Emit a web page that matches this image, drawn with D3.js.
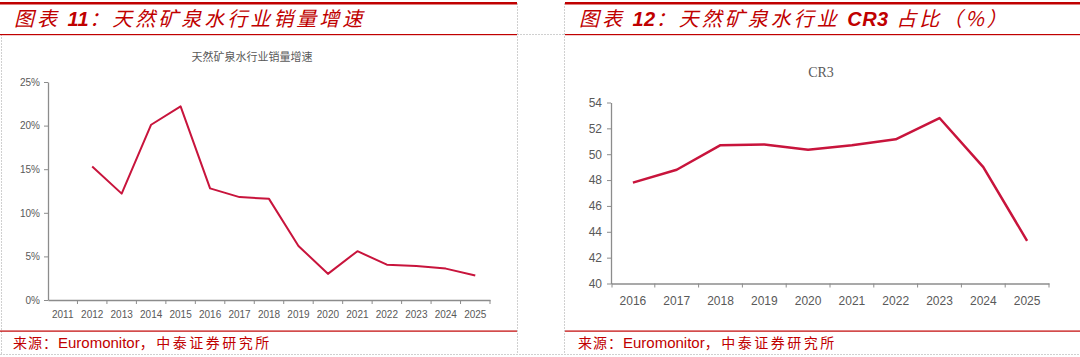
<!DOCTYPE html>
<html><head><meta charset="utf-8">
<script src="https://cdn.jsdelivr.net/npm/d3@7"></script>
<style>
html,body{margin:0;padding:0;background:#fff;}
svg{display:block;}
</style></head>
<body>
<svg id="c" width="1080" height="357"></svg>
<script>
const growthYears = ["2011","2012","2013","2014","2015","2016","2017","2018","2019","2020","2021","2022","2023","2024","2025"];
const growthValues = [null,0.153,0.122,0.201,0.222,0.128,0.118,0.116,0.062,0.030,0.056,0.0405,0.039,0.036,0.028];
const growthTicks = [0,0.05,0.10,0.15,0.20,0.25];

const cr3Years = ["2016","2017","2018","2019","2020","2021","2022","2023","2024","2025"];
const cr3Values = [47.8,48.8,50.7,50.75,50.35,50.7,51.15,52.8,49.0,43.3];
const cr3Ticks = [40,42,44,46,48,50,52,54];

const RED = "#c00000";
const LINE = "#c8143c";
const AX = "#8c8c8c";
const TXT = "#595959";

const svg = d3.select("#c");

const dash = "#d0d0d0";
function dline(x1,y1,x2,y2){svg.append("line").attr("x1",x1).attr("y1",y1).attr("x2",x2).attr("y2",y2).attr("stroke",dash).attr("stroke-width",1).attr("stroke-dasharray","2,1");}
dline(1.5,34,1.5,355);
dline(517.5,3,517.5,355);
dline(564.5,3,564.5,355);
dline(517,34.5,564,34.5);
dline(0,354.5,1080,354.5);

function header(x0,x1,parts){
  svg.append("rect").attr("x",x0).attr("y",2).attr("width",x1-x0).attr("height",2.5).attr("fill",RED);
  svg.append("rect").attr("x",x0).attr("y",34).attr("width",x1-x0).attr("height",1.2).attr("fill",RED);
  const t = svg.append("text").attr("x",x0+14).attr("y",26).attr("fill",RED)
    .attr("font-size",20).attr("font-style","italic");
  parts.forEach(p=>{
    t.append("tspan").text(p.t)
      .attr("font-family",p.latin?"'Liberation Sans',Arial,sans-serif":"'Noto Sans CJK SC',sans-serif")
      .attr("font-weight",p.latin?"bold":"normal")
      .attr("letter-spacing",p.latin?"0.5px":"3px");
  });
}
header(0,517,[{t:"图表 "},{t:"11",latin:true},{t:"：天然矿泉水行业销量增速"}]);
header(565,1080,[{t:"图表 "},{t:"12",latin:true},{t:"：天然矿泉水行业 "},{t:"CR3",latin:true},{t:" 占比（%）"}]);

function footer(x0,x1){
  svg.append("rect").attr("x",x0).attr("y",330.5).attr("width",x1-x0).attr("height",1.2).attr("fill",RED);
  const t = svg.append("text").attr("x",x0+13).attr("y",348).attr("fill",RED).attr("font-size",15);
  t.append("tspan").text("来源：").attr("font-family","'Noto Sans CJK SC',sans-serif").attr("font-size",14).attr("letter-spacing","1px");
  t.append("tspan").text("Euromonitor").attr("font-family","'Liberation Sans',Arial,sans-serif");
  t.append("tspan").text("，中泰证券研究所").attr("font-family","'Noto Sans CJK SC',sans-serif").attr("font-size",14).attr("letter-spacing","2.5px");
}
footer(0,517);
footer(565,1080);

// ---- Chart 1 ----
{
  const x = d3.scaleBand().domain(growthYears).range([48,490]);
  const y = d3.scaleLinear().domain([0,0.25]).range([300,82]);
  const g = svg.append("g");
  g.append("text").attr("x",252).attr("y",61).attr("text-anchor","middle")
    .attr("font-family","'Noto Sans CJK SC',sans-serif").attr("font-size",11).attr("fill",TXT)
    .text("天然矿泉水行业销量增速");
  const ya = g.append("g").attr("transform","translate(48,0)")
    .call(d3.axisLeft(y).tickValues(growthTicks).tickFormat(d3.format(".0%")).tickSize(4).tickSizeOuter(0));
  const xa = g.append("g").attr("transform","translate(0,300)")
    .call(d3.axisBottom(x).tickSize(0).tickSizeOuter(0));
  g.selectAll(".bt").data(growthYears).enter().append("line")
    .attr("x1",d=>x(d)+x.bandwidth()).attr("x2",d=>x(d)+x.bandwidth())
    .attr("y1",300).attr("y2",304).attr("stroke",AX);
  [ya,xa].forEach(a=>{
    a.select(".domain").attr("stroke",AX).attr("stroke-width",1.3);
    a.selectAll(".tick line").attr("stroke",AX);
    a.selectAll("text").attr("fill",TXT).attr("font-size",10).attr("font-family","'Liberation Sans',Arial,sans-serif");
  });
  xa.selectAll("text").attr("dy","1.45em");
  ya.selectAll("text").attr("dx","-1px");
  const line = d3.line().defined(d=>d.v!=null).x(d=>x(d.k)+x.bandwidth()/2).y(d=>y(d.v));
  g.append("path").datum(growthYears.map((k,i)=>({k,v:growthValues[i]})))
    .attr("d",line).attr("fill","none").attr("stroke",LINE).attr("stroke-width",2).attr("stroke-linejoin","round");
}

// ---- Chart 2 ----
{
  const x = d3.scaleBand().domain(cr3Years).range([611,1049]);
  const y = d3.scaleLinear().domain([40,54]).range([283.5,102.5]);
  const g = svg.append("g");
  g.append("text").attr("x",821).attr("y",77).attr("text-anchor","middle")
    .attr("font-family","'Liberation Serif','Times New Roman',serif").attr("font-size",14).attr("fill",TXT)
    .text("CR3");
  const ya = g.append("g").attr("transform","translate(611,0)")
    .call(d3.axisLeft(y).tickValues(cr3Ticks).tickSize(4).tickSizeOuter(0));
  const xa = g.append("g").attr("transform","translate(0,283.5)")
    .call(d3.axisBottom(x).tickSize(0).tickSizeOuter(0));
  g.selectAll(".bt").data([cr3Years[0]].concat(cr3Years)).enter().append("line")
    .attr("x1",(d,i)=>i===0?x(d)+1:x(d)+x.bandwidth()).attr("x2",(d,i)=>i===0?x(d)+1:x(d)+x.bandwidth())
    .attr("y1",283.5).attr("y2",287.5).attr("stroke",AX);
  [ya,xa].forEach(a=>{
    a.select(".domain").attr("stroke",AX).attr("stroke-width",1.3);
    a.selectAll(".tick line").attr("stroke",AX);
    a.selectAll("text").attr("fill",TXT).attr("font-size",12).attr("font-family","'Liberation Sans',Arial,sans-serif");
  });
  xa.selectAll("text").attr("dy","1.5em");
  ya.selectAll("text").attr("dx","-2px");
  const line = d3.line().x(d=>x(d.k)+x.bandwidth()/2).y(d=>y(d.v));
  g.append("path").datum(cr3Years.map((k,i)=>({k,v:cr3Values[i]})))
    .attr("d",line).attr("fill","none").attr("stroke",LINE).attr("stroke-width",2.5).attr("stroke-linejoin","round");
}
</script>
</body></html>
